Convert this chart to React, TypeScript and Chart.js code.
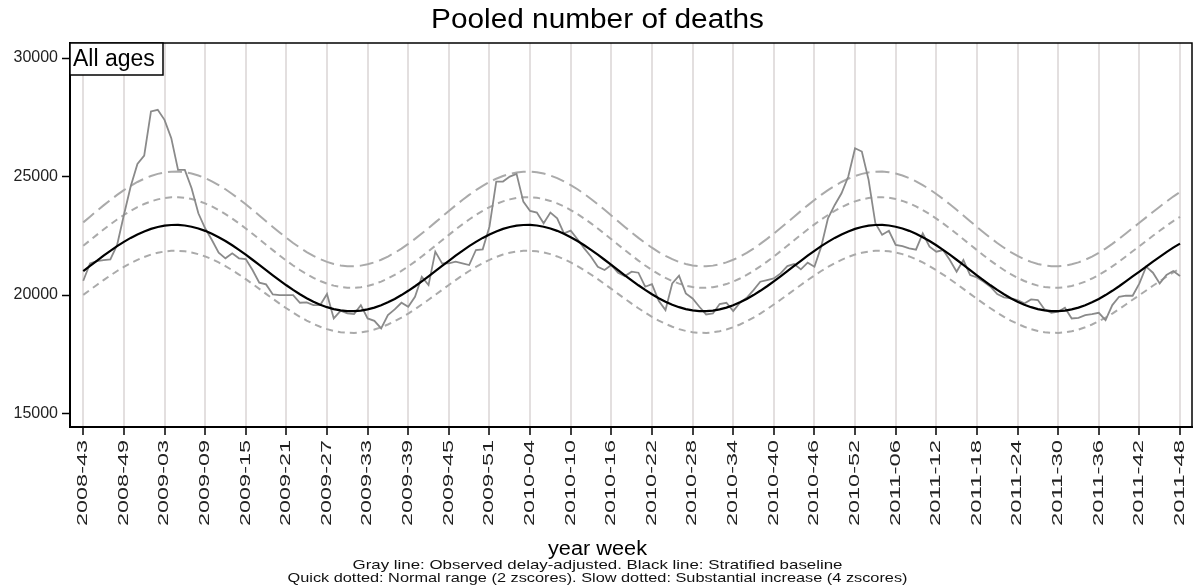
import React, { useEffect, useRef } from "react";
import { Chart, registerables } from "chart.js";

Chart.register(...registerables);

const FONT = '"Liberation Sans", Arial, Helvetica, sans-serif';

// Tick labels (every 6th week, 2008-43 .. 2011-48)
const tickLabels = [
  "2008-43", "2008-49", "2009-03", "2009-09", "2009-15", "2009-21", "2009-27",
  "2009-33", "2009-39", "2009-45", "2009-51", "2010-04", "2010-10", "2010-16",
  "2010-22", "2010-28", "2010-34", "2010-40", "2010-46", "2010-52", "2011-06",
  "2011-12", "2011-18", "2011-24", "2011-30", "2011-36", "2011-42", "2011-48",
];
const yTickValues = [15000, 20000, 25000, 30000];

// Observed delay-adjusted deaths (weekly, 163 weeks)
const observed = [
  20605, 21337, 21436, 21478, 21506, 22112, 23379, 24576, 25534, 25886,
  27745, 27816, 27393, 26619, 25280, 25280, 24506, 23450, 22816, 22323,
  21788, 21549, 21760, 21549, 21520, 21056, 20521, 20450, 20028, 20000,
  20000, 20000, 19675, 19690, 19577, 19577, 20042, 19014, 19337, 19225,
  19197, 19577, 19014, 18915, 18592, 19155, 19394, 19676, 19507, 19929,
  20774, 20422, 21831, 21338, 21338, 21408, 21338, 21267, 21901, 21929,
  22887, 24788, 24788, 24999, 25112, 23943, 23549, 23478, 23028, 23478,
  23239, 22605, 22718, 22352, 21971, 21619, 21197, 21056, 21267, 20943,
  20800, 20986, 20943, 20352, 20465, 19761, 19366, 20493, 20817, 20070,
  19859, 19507, 19183, 19225, 19620, 19676, 19324, 19676, 19887, 20211,
  20563, 20634, 20704, 20915, 21225, 21310, 21084, 21366, 21197, 22042,
  23239, 23802, 24295, 24999, 26196, 26056, 24858, 23028, 22540, 22710,
  22112, 22060, 21971, 21915, 22605, 22042, 21831, 21901, 21478, 20986,
  21478, 20845, 20746, 20563, 20352, 20042, 19901, 19859, 19789, 19648,
  19817, 19789, 19394, 19253, 19296, 19465, 19014, 19042, 19155, 19197,
  19253, 18944, 19577, 19929, 19972, 19972, 20493, 21197, 20943, 20493,
  20845, 21014, 20803,
];

// Stratified baseline
const baseline = [
  21008, 21228, 21446, 21661, 21867, 22063, 22245, 22411, 22559, 22686,
  22791, 22871, 22926, 22955, 22958, 22934, 22884, 22809, 22709, 22586,
  22442, 22280, 22100, 21907, 21702, 21490, 21272, 21052, 20834, 20619,
  20413, 20217, 20035, 19869, 19721, 19594, 19489, 19409, 19354, 19325,
  19322, 19346, 19396, 19471, 19571, 19694, 19838, 20000, 20180, 20373,
  20578, 20790,
  21008, 21228, 21446, 21661, 21867, 22063, 22245, 22411, 22559, 22686,
  22791, 22871, 22926, 22955, 22958, 22934, 22884, 22809, 22709, 22586,
  22442, 22280, 22100, 21907, 21702, 21490, 21272, 21052, 20834, 20619,
  20413, 20217, 20035, 19869, 19721, 19594, 19489, 19409, 19354, 19325,
  19322, 19346, 19396, 19471, 19571, 19694, 19838, 20000, 20180, 20373,
  20578, 20790,
  21008, 21228, 21446, 21661, 21867, 22063, 22245, 22411, 22559, 22686,
  22791, 22871, 22926, 22955, 22958, 22934, 22884, 22809, 22709, 22586,
  22442, 22280, 22100, 21907, 21702, 21490, 21272, 21052, 20834, 20619,
  20413, 20217, 20035, 19869, 19721, 19594, 19489, 19409, 19354, 19325,
  19322, 19346, 19396, 19471, 19571, 19694, 19838, 20000, 20180, 20373,
  20578, 20790,
  20990, 21200, 21410, 21610, 21810, 22000, 22170,
];

// Normal range upper bound (2 z-scores)
const upper2 = [
  22079, 22311, 22540, 22766, 22982, 23188, 23379, 23554, 23710, 23843,
  23953, 24037, 24095, 24126, 24129, 24104, 24051, 23972, 23867, 23738,
  23587, 23416, 23227, 23024, 22809, 22586, 22357, 22126, 21897, 21671,
  21454, 21248, 21057, 20882, 20727, 20593, 20483, 20399, 20341, 20311,
  20307, 20333, 20385, 20464, 20569, 20698, 20850, 21020, 21209, 21412,
  21627, 21850,
  22079, 22311, 22540, 22766, 22982, 23188, 23379, 23554, 23710, 23843,
  23953, 24037, 24095, 24126, 24129, 24104, 24051, 23972, 23867, 23738,
  23587, 23416, 23227, 23024, 22809, 22586, 22357, 22126, 21897, 21671,
  21454, 21248, 21057, 20882, 20727, 20593, 20483, 20399, 20341, 20311,
  20307, 20333, 20385, 20464, 20569, 20698, 20850, 21020, 21209, 21412,
  21627, 21850,
  22079, 22311, 22540, 22766, 22982, 23188, 23379, 23554, 23710, 23843,
  23953, 24037, 24095, 24126, 24129, 24104, 24051, 23972, 23867, 23738,
  23587, 23416, 23227, 23024, 22809, 22586, 22357, 22126, 21897, 21671,
  21454, 21248, 21057, 20882, 20727, 20593, 20483, 20399, 20341, 20311,
  20307, 20333, 20385, 20464, 20569, 20698, 20850, 21020, 21209, 21412,
  21627, 21850,
  22060, 22281, 22502, 22712, 22922, 23122, 23301,
];

// Substantial increase bound (4 z-scores)
const upper4 = [
  23067, 23308, 23548, 23784, 24010, 24225, 24425, 24607, 24770, 24909,
  25025, 25112, 25173, 25205, 25208, 25182, 25127, 25044, 24934, 24799,
  24641, 24463, 24266, 24054, 23829, 23596, 23357, 23115, 22876, 22640,
  22413, 22198, 21998, 21816, 21654, 21514, 21399, 21311, 21251, 21219,
  21216, 21242, 21297, 21379, 21489, 21624, 21782, 21960, 22158, 22370,
  22595, 22827,
  23067, 23308, 23548, 23784, 24010, 24225, 24425, 24607, 24770, 24909,
  25025, 25112, 25173, 25205, 25208, 25182, 25127, 25044, 24934, 24799,
  24641, 24463, 24266, 24054, 23829, 23596, 23357, 23115, 22876, 22640,
  22413, 22198, 21998, 21816, 21654, 21514, 21399, 21311, 21251, 21219,
  21216, 21242, 21297, 21379, 21489, 21624, 21782, 21960, 22158, 22370,
  22595, 22827,
  23067, 23308, 23548, 23784, 24010, 24225, 24425, 24607, 24770, 24909,
  25025, 25112, 25173, 25205, 25208, 25182, 25127, 25044, 24934, 24799,
  24641, 24463, 24266, 24054, 23829, 23596, 23357, 23115, 22876, 22640,
  22413, 22198, 21998, 21816, 21654, 21514, 21399, 21311, 21251, 21219,
  21216, 21242, 21297, 21379, 21489, 21624, 21782, 21960, 22158, 22370,
  22595, 22827,
  23047, 23278, 23508, 23728, 23947, 24156, 24343,
];

// Normal range lower bound (2 z-scores)
const lower2 = [
  20010, 20220, 20427, 20632, 20828, 21015, 21188, 21346, 21487, 21608,
  21708, 21785, 21837, 21865, 21867, 21845, 21797, 21726, 21630, 21513,
  21376, 21222, 21050, 20866, 20671, 20469, 20262, 20052, 19844, 19640,
  19443, 19257, 19083, 18925, 18784, 18663, 18563, 18487, 18435, 18407,
  18404, 18427, 18475, 18546, 18641, 18759, 18896, 19050, 19221, 19405,
  19601, 19802,
  20010, 20220, 20427, 20632, 20828, 21015, 21188, 21346, 21487, 21608,
  21708, 21785, 21837, 21865, 21867, 21845, 21797, 21726, 21630, 21513,
  21376, 21222, 21050, 20866, 20671, 20469, 20262, 20052, 19844, 19640,
  19443, 19257, 19083, 18925, 18784, 18663, 18563, 18487, 18435, 18407,
  18404, 18427, 18475, 18546, 18641, 18759, 18896, 19050, 19221, 19405,
  19601, 19802,
  20010, 20220, 20427, 20632, 20828, 21015, 21188, 21346, 21487, 21608,
  21708, 21785, 21837, 21865, 21867, 21845, 21797, 21726, 21630, 21513,
  21376, 21222, 21050, 20866, 20671, 20469, 20262, 20052, 19844, 19640,
  19443, 19257, 19083, 18925, 18784, 18663, 18563, 18487, 18435, 18407,
  18404, 18427, 18475, 18546, 18641, 18759, 18896, 19050, 19221, 19405,
  19601, 19802,
  19993, 20193, 20393, 20584, 20774, 20955, 21117,
];

const TITLE = "Pooled number of deaths";
const X_TITLE = "year week";
const NOTE1 = "Gray line: Observed delay-adjusted. Black line: Stratified baseline";
const NOTE2 = "Quick dotted: Normal range (2 zscores). Slow dotted: Substantial increase (4 zscores)";
const PANEL = "All ages";

const toXY = (arr: number[]) => arr.map((v, i) => ({ x: i, y: v }));

// draw text horizontally stretched/compressed to a target width
function fitText(ctx: any, text: string, cx: number, cy: number, font: string, targetW: number) {
  ctx.save();
  ctx.font = font;
  const w = ctx.measureText(text).width;
  const sx = targetW / w;
  ctx.translate(cx, cy);
  ctx.scale(sx, 1);
  ctx.textAlign = "center";
  ctx.textBaseline = "middle";
  ctx.fillText(text, 0, 0);
  ctx.restore();
}

const decorPlugin = {
  id: "decor",
  afterDraw(chart: any) {
    const { ctx, chartArea: a, width } = chart;
    const xs = chart.scales.x;
    ctx.save();
    // frame
    ctx.strokeStyle = "#000";
    ctx.lineWidth = 1.5;
    ctx.strokeRect(a.left, a.top, a.right - a.left, a.bottom - a.top);
    // panel label box
    const bw = 93;
    const bh = 32;
    ctx.fillStyle = "#fff";
    ctx.fillRect(a.left, a.top, bw, bh);
    ctx.lineWidth = 1.5;
    ctx.strokeRect(a.left, a.top, bw, bh);
    ctx.fillStyle = "#000";
    ctx.font = `23px ${FONT}`;
    ctx.textBaseline = "middle";
    ctx.textAlign = "left";
    ctx.fillText(PANEL, a.left + 3, a.top + bh / 2 + 1);

    // x tick labels (rotated, elongated like the reference)
    ctx.fillStyle = "#222";
    ctx.font = `14px ${FONT}`;
    tickLabels.forEach((lab, k) => {
      const px = xs.getPixelForValue(k * 6);
      const w = ctx.measureText(lab).width;
      const sx = 86 / w;
      ctx.save();
      ctx.translate(px, a.bottom + 13);
      ctx.rotate(-Math.PI / 2);
      ctx.scale(sx, 1);
      ctx.textAlign = "right";
      ctx.textBaseline = "middle";
      ctx.fillText(lab, 0, 0);
      ctx.restore();
    });

    // titles
    const cx = width / 2;
    ctx.fillStyle = "#000";
    fitText(ctx, TITLE, cx, 21, `27px ${FONT}`, 333);
    fitText(ctx, X_TITLE, cx, 549, `20px ${FONT}`, 99);
    ctx.fillStyle = "#111";
    fitText(ctx, NOTE1, cx, 565, `13px ${FONT}`, 490);
    fitText(ctx, NOTE2, cx, 578, `13px ${FONT}`, 620);
    ctx.restore();
  },
};

export default function App() {
  const ref = useRef<HTMLCanvasElement | null>(null);

  useEffect(() => {
    if (!ref.current) return;
    const chart = new Chart(ref.current, {
      type: "line",
      data: {
        datasets: [
          {
            label: "Baseline",
            data: toXY(baseline),
            borderColor: "#000000",
            borderWidth: 2.2,
            pointRadius: 0,
            tension: 0,
          },
          {
            label: "Observed",
            data: toXY(observed),
            borderColor: "#8a8a8a",
            borderWidth: 1.8,
            pointRadius: 0,
            tension: 0,
          },
          {
            label: "Upper 2z",
            data: toXY(upper2),
            borderColor: "#aaaaaa",
            borderWidth: 2,
            borderDash: [7, 5],
            pointRadius: 0,
          },
          {
            label: "Lower 2z",
            data: toXY(lower2),
            borderColor: "#aaaaaa",
            borderWidth: 2,
            borderDash: [7, 5],
            pointRadius: 0,
          },
          {
            label: "Upper 4z",
            data: toXY(upper4),
            borderColor: "#aaaaaa",
            borderWidth: 2,
            borderDash: [14, 6],
            pointRadius: 0,
          },
        ],
      },
      options: {
        animation: false,
        responsive: false,
        devicePixelRatio: 1,
        layout: { padding: { top: 43, right: 3, left: 0, bottom: 0 } },
        plugins: {
          legend: { display: false },
          tooltip: { enabled: false },
          title: { display: false },
        },
        scales: {
          x: {
            type: "linear",
            min: -1.96,
            max: 163.77,
            afterBuildTicks: (s: any) => {
              s.ticks = tickLabels.map((_, k) => ({ value: k * 6 }));
            },
            afterFit: (s: any) => {
              s.height = 158;
              s.paddingLeft = 0;
              s.paddingRight = 0;
            },
            ticks: {
              display: false,
              autoSkip: false,
            },
            grid: {
              color: "#e3dfdf",
              lineWidth: 2,
              tickColor: "#000",
              tickWidth: 1.5,
              tickLength: 8,
            },
            border: { display: true, color: "#000", width: 2 },
          },
          y: {
            min: 14434,
            max: 30634,
            afterBuildTicks: (s: any) => {
              s.ticks = yTickValues.map((v) => ({ value: v }));
            },
            afterFit: (s: any) => {
              s.width = 70;
              s.paddingTop = 0;
              s.paddingBottom = 0;
            },
            ticks: {
              padding: 4,
              color: "#222",
              font: { family: FONT, size: 16 },
              callback: (v: any) => String(v),
            },
            grid: {
              drawOnChartArea: false,
              tickColor: "#000",
              tickWidth: 1.5,
              tickLength: 8,
            },
            border: { display: true, color: "#000", width: 2 },
          },
        },
      },
      plugins: [decorPlugin],
    });
    return () => chart.destroy();
  }, []);

  return (
    <div style={{ position: "absolute", left: 0, top: 0, width: 1195, height: 585, background: "#fff" }}>
      <canvas ref={ref} width={1195} height={585} style={{ display: "block" }} />
    </div>
  );
}
